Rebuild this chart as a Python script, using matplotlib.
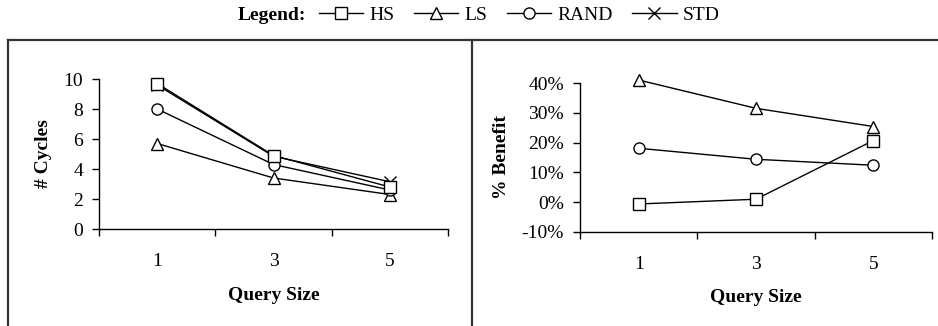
"""Query size vs. cycles / benefit, two-panel line chart."""

import matplotlib

matplotlib.use("Agg")
import matplotlib.pyplot as plt
from matplotlib.lines import Line2D
from matplotlib.ticker import FuncFormatter

plt.rcParams["font.family"] = ["Liberation Serif", "DejaVu Serif"]

# data
query_sizes = ["1", "3", "5"]
cycles_hs = [9.7, 4.9, 2.8]
cycles_ls = [5.7, 3.4, 2.3]
cycles_rand = [8.0, 4.3, 2.6]
cycles_std = [9.6, 4.85, 3.15]

benefit_hs = [-0.6, 1.0, 20.7]
benefit_ls = [41.0, 31.5, 25.4]
benefit_rand = [18.1, 14.4, 12.4]

series_style = {
    "HS": dict(marker="s", ms=8),
    "LS": dict(marker="^", ms=9),
    "RAND": dict(marker="o", ms=8),
    "STD": dict(marker="x", ms=9),
}

W, H = 938, 326
FS = 14
fig = plt.figure(figsize=(W / 100, H / 100), dpi=100)


def px_axes(x0, x1, y_top, y_bot):
    return fig.add_axes([x0 / W, 1 - y_bot / H, (x1 - x0) / W, (y_bot - y_top) / H])


def style_axes(ax, ylabel, ylabel_x):
    for side in ("top", "right"):
        ax.spines[side].set_visible(False)
    for side in ("left", "bottom"):
        ax.spines[side].set_linewidth(1.0)
    x = range(len(query_sizes))
    ax.set_xlim(-0.5, len(query_sizes) - 0.5)
    ax.set_xticks([i - 0.5 for i in range(len(query_sizes) + 1)])
    ax.set_xticklabels([])
    ax.set_xticks(list(x), minor=True)
    ax.set_xticklabels(query_sizes, minor=True)
    ax.tick_params(axis="x", which="major", direction="out", length=5, width=1.0)
    ax.tick_params(axis="x", which="minor", length=0, pad=17, labelsize=FS)
    ax.tick_params(axis="y", direction="out", length=5, width=1.0,
                   pad=6.5, labelsize=FS)
    ax.set_xlabel("Query Size", fontsize=FS, fontweight="bold", va="center")
    ax.xaxis.set_label_coords(0.5, -0.44)
    ax.set_ylabel(ylabel, fontsize=FS, fontweight="bold", va="center")
    ax.yaxis.set_label_coords(ylabel_x, 0.5)


def draw(ax, x, y, name):
    ax.plot(x, y, color="black", lw=1.0, mfc="white", mec="black", mew=1.0,
            clip_on=False, **series_style[name])


# left panel: number of cycles
ax1 = px_axes(99, 448, 79, 229)
xs = list(range(len(query_sizes)))
draw(ax1, xs, cycles_ls, "LS")
draw(ax1, xs, cycles_rand, "RAND")
draw(ax1, xs, cycles_std, "STD")
draw(ax1, xs, cycles_hs, "HS")
ax1.set_ylim(0, 10)
ax1.set_yticks([0, 2, 4, 6, 8, 10])
style_axes(ax1, "# Cycles", -0.16)

# right panel: percent benefit
ax2 = px_axes(580, 932, 83, 232)
draw(ax2, xs, benefit_ls, "LS")
draw(ax2, xs, benefit_rand, "RAND")
draw(ax2, xs, benefit_hs, "HS")
ax2.set_ylim(-10, 40)
ax2.set_yticks([-10, 0, 10, 20, 30, 40])
ax2.yaxis.set_major_formatter(FuncFormatter(lambda v, _: f"{v:.0f}%"))
style_axes(ax2, "% Benefit", -0.224)

# panel frame lines
frame = dict(color="#333333", lw=1.6, transform=fig.transFigure)
fig.add_artist(Line2D([8 / W, 1], [1 - 40 / H] * 2, **frame))
fig.add_artist(Line2D([8 / W] * 2, [0, 1 - 40 / H], **frame))
fig.add_artist(Line2D([472 / W] * 2, [0, 1 - 40 / H], **frame))

# legend strip on top
handles = [
    Line2D([], [], color="black", lw=1.0, mfc="white", mec="black", mew=1.0,
           **series_style[name])
    for name in series_style
]
fig.legend(handles, list(series_style), loc="center", bbox_to_anchor=(519 / W, 1 - 15 / H),
           ncol=4, frameon=False, fontsize=FS, handlelength=2.3, handletextpad=0.3,
           columnspacing=1.0, borderpad=0, borderaxespad=0)
fig.text(306 / W, 1 - 15 / H, "Legend:", ha="right", va="center",
         fontsize=FS, fontweight="bold")

fig.savefig("out.png", dpi=100)
